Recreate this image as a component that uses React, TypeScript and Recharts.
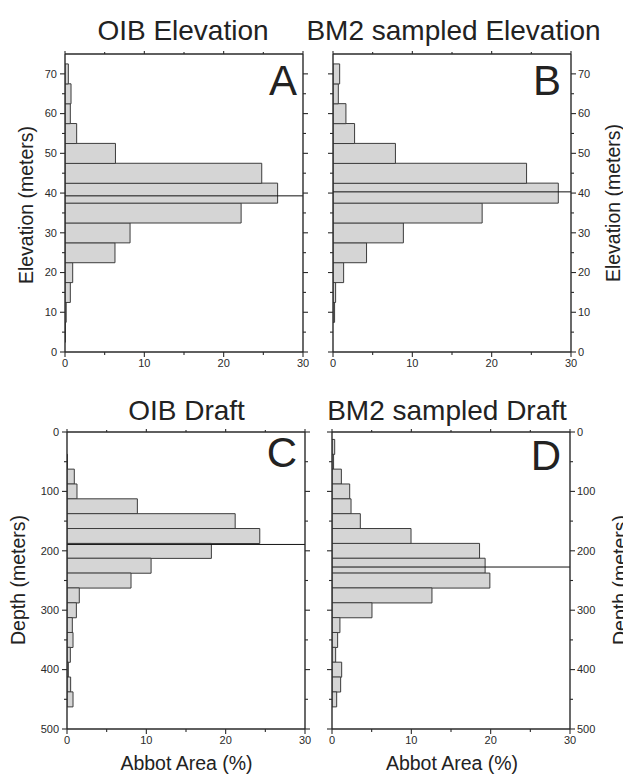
import React from 'react';
import { BarChart, Bar, XAxis, YAxis, ReferenceLine } from 'recharts';

// ---- data ----
const elevBins = [5, 10, 15, 20, 25, 30, 35, 40, 45, 50, 55, 60, 65, 70];
const oibElevation = [0.05, 0.15, 0.67, 0.97, 6.3, 8.2, 22.2, 26.8, 24.8, 6.36, 1.47, 0.67, 0.76, 0.42];
const bm2Elevation = [0, 0.2, 0.33, 1.34, 4.23, 8.87, 18.8, 28.4, 24.4, 7.87, 2.72, 1.63, 0.67, 0.84];

const depthBins = [25, 50, 75, 100, 125, 150, 175, 200, 225, 250, 275, 300, 325, 350, 375, 400, 425, 450];
const oibDraft = [0, 0.06, 0.92, 1.26, 8.87, 21.2, 24.3, 18.2, 10.6, 8.07, 1.55, 1.18, 0.67, 0.76, 0.42, 0.17, 0.46, 0.76];
const bm2Draft = [0.34, 0.2, 1.18, 2.23, 2.4, 3.57, 9.96, 18.6, 19.3, 19.9, 12.6, 5.04, 1.0, 0.71, 0.46, 1.22, 1.09, 0.59];

const oibElevationMedian = 39.3;
const bm2ElevationMedian = 40.3;
const oibDraftMedian = 189.3;
const bm2DraftMedian = 227.3;

const areaTicks = [0, 5, 10, 15, 20, 25, 30];
const elevTicks = [0, 5, 10, 15, 20, 25, 30, 35, 40, 45, 50, 55, 60, 65, 70];
const depthTicks = [0, 50, 100, 150, 200, 250, 300, 350, 400, 450, 500];

const titles = ['OIB Elevation', 'BM2 sampled Elevation', 'OIB Draft', 'BM2 sampled Draft'];
const panelLetters = ['A', 'B', 'C', 'D'];
const elevLabel = 'Elevation (meters)';
const depthLabel = 'Depth (meters)';
const areaLabel = 'Abbot Area (%)';

// ---- styles ----
const FONT = '"Liberation Sans", Arial, Helvetica, sans-serif';
const INK = '#2a2a2a';
const BAR_FILL = '#d5d5d5';
const BAR_STROKE = '#3c3c3c';
const TICK_FONT = 11;

const S = 5; // tickSize
const M_LEFT = 3;
const M_RIGHT = 2;
const M_BOTTOM = 2;
const S_TOP = 3;
const M_TOP = 0;

type Side = 'left' | 'right' | 'bottom' | 'top';

function makeTick(side: Side, major: number, showLabel: boolean) {
  return (props: any) => {
    const { x, y, payload } = props;
    const v = payload.value;
    const isMajor = Math.abs(v % major) < 1e-9;
    const label = showLabel && isMajor ? String(v) : null;
    if (side === 'left') {
      const ax = x + S + M_LEFT;
      const L = isMajor ? S : 3;
      return (
        <g>
          <line x1={ax} x2={ax - L} y1={y} y2={y} stroke={INK} strokeWidth={1.1} />
          {label && (
            <text x={x} y={y} dy="0.35em" textAnchor="end" fontSize={TICK_FONT} fontFamily={FONT} fill={INK}>
              {label}
            </text>
          )}
        </g>
      );
    }
    if (side === 'right') {
      const ax = x - S - M_RIGHT;
      const L = isMajor ? S : 3;
      return (
        <g>
          <line x1={ax} x2={ax + L} y1={y} y2={y} stroke={INK} strokeWidth={1.1} />
          {label && (
            <text x={x} y={y} dy="0.35em" textAnchor="start" fontSize={TICK_FONT} fontFamily={FONT} fill={INK}>
              {label}
            </text>
          )}
        </g>
      );
    }
    if (side === 'bottom') {
      const ay = y - S - M_BOTTOM;
      const L = isMajor ? S : 3;
      return (
        <g>
          <line x1={x} x2={x} y1={ay} y2={ay + L} stroke={INK} strokeWidth={1.1} />
          {label && (
            <text x={x} y={y} dy="0.75em" textAnchor="middle" fontSize={TICK_FONT} fontFamily={FONT} fill={INK}>
              {label}
            </text>
          )}
        </g>
      );
    }
    const ay = y + S_TOP + M_TOP;
    const L = isMajor ? 3 : 2;
    return (
      <g>
        <line x1={x} x2={x} y1={ay} y2={ay - L} stroke={INK} strokeWidth={1.1} />
      </g>
    );
  };
}

type PanelProps = {
  left: number;
  top: number;
  width: number;
  height: number;
  bins: number[];
  values: number[];
  yDomain: [number, number];
  yTicks: number[];
  yMajor: number;
  reversed: boolean;
  median: number;
  labelsLeft: boolean;
  leftW: number;
  rightW: number;
  topH: number;
  bottomH: number;
};

function Panel(p: PanelProps) {
  const data = p.bins.map((b, i) => ({ bin: b, area: p.values[i] }));
  const axisLine = { stroke: INK, strokeWidth: 1.4 };
  return (
    <div style={{ position: 'absolute', left: p.left, top: p.top, width: p.width, height: p.height }}>
      <BarChart
        layout="vertical"
        width={p.width}
        height={p.height}
        data={data}
        margin={{ top: 0, right: 0, bottom: 0, left: 0 }}
        barCategoryGap={0}
        barGap={0}
      >
        <XAxis
          xAxisId="main"
          type="number"
          orientation="bottom"
          domain={[0, 30]}
          ticks={areaTicks}
          allowDataOverflow
          interval={0}
          height={p.bottomH}
          tickLine={false}
          tickSize={S}
          tickMargin={M_BOTTOM}
          axisLine={axisLine}
          tick={makeTick('bottom', 10, true)}
        />
        <XAxis
          xAxisId="top"
          type="number"
          orientation="top"
          domain={[0, 30]}
          ticks={areaTicks}
          allowDataOverflow
          interval={0}
          height={p.topH}
          tickLine={false}
          tickSize={S_TOP}
          tickMargin={M_TOP}
          axisLine={axisLine}
          tick={makeTick('top', 10, false)}
        />
        <YAxis
          yAxisId="main"
          type="number"
          dataKey="bin"
          orientation="left"
          domain={p.yDomain}
          ticks={p.yTicks}
          reversed={p.reversed}
          allowDataOverflow
          interval={0}
          width={p.leftW}
          tickLine={false}
          tickSize={S}
          tickMargin={M_LEFT}
          axisLine={axisLine}
          tick={makeTick('left', p.yMajor, p.labelsLeft)}
        />
        <YAxis
          yAxisId="right"
          type="number"
          dataKey="bin"
          orientation="right"
          domain={p.yDomain}
          ticks={p.yTicks}
          reversed={p.reversed}
          allowDataOverflow
          interval={0}
          width={p.rightW}
          tickLine={false}
          tickSize={S}
          tickMargin={M_RIGHT}
          axisLine={axisLine}
          tick={makeTick('right', p.yMajor, !p.labelsLeft)}
        />
        <Bar
          dataKey="area"
          xAxisId="main"
          yAxisId="main"
          fill={BAR_FILL}
          stroke={BAR_STROKE}
          strokeWidth={1}
          isAnimationActive={false}
        />
        <ReferenceLine y={p.median} xAxisId="main" yAxisId="main" stroke="#111" strokeWidth={1} />
      </BarChart>
    </div>
  );
}

export default function App() {
  const titleStyle = { fontFamily: FONT, fontSize: 28, fill: '#222' } as const;
  const letterStyle = { fontFamily: FONT, fontSize: 42, fill: '#222' } as const;
  const labelStyle = { fontFamily: FONT, fontSize: 19.5, fill: '#222' } as const;
  return (
    <div style={{ position: 'absolute', left: 0, top: 0, width: 623, height: 775, background: '#fff', overflow: 'hidden' }}>
      <Panel
        left={0} top={40} width={320} height={340}
        bins={elevBins} values={oibElevation}
        yDomain={[0, 75]} yTicks={elevTicks} yMajor={10} reversed={true}
        median={oibElevationMedian} labelsLeft={true}
        leftW={65} rightW={17} topH={14} bottomH={28}
      />
      <Panel
        left={320} top={40} width={303} height={340}
        bins={elevBins} values={bm2Elevation}
        yDomain={[0, 75]} yTicks={elevTicks} yMajor={10} reversed={true}
        median={bm2ElevationMedian} labelsLeft={false}
        leftW={13} rightW={52} topH={14} bottomH={28}
      />
      <Panel
        left={0} top={418} width={320} height={340}
        bins={depthBins} values={oibDraft}
        yDomain={[0, 500]} yTicks={depthTicks} yMajor={100} reversed={false}
        median={oibDraftMedian} labelsLeft={true}
        leftW={67} rightW={15} topH={14} bottomH={29}
      />
      <Panel
        left={320} top={418} width={303} height={340}
        bins={depthBins} values={bm2Draft}
        yDomain={[0, 500]} yTicks={depthTicks} yMajor={100} reversed={false}
        median={bm2DraftMedian} labelsLeft={false}
        leftW={12} rightW={53} topH={14} bottomH={29}
      />
      <svg width={623} height={775} style={{ position: 'absolute', left: 0, top: 0, pointerEvents: 'none' }}>
        <text x={183} y={39.5} textAnchor="middle" style={titleStyle}>{titles[0]}</text>
        <text x={453.5} y={39.5} textAnchor="middle" style={titleStyle}>{titles[1]}</text>
        <text x={186.5} y={420} textAnchor="middle" style={titleStyle}>{titles[2]}</text>
        <text x={447} y={420} textAnchor="middle" style={titleStyle}>{titles[3]}</text>

        <text x={297} y={95} textAnchor="end" style={letterStyle}>{panelLetters[0]}</text>
        <text x={561} y={95} textAnchor="end" style={letterStyle}>{panelLetters[1]}</text>
        <text x={297} y={467} textAnchor="end" style={letterStyle}>{panelLetters[2]}</text>
        <text x={561} y={470} textAnchor="end" style={letterStyle}>{panelLetters[3]}</text>

        <text transform="translate(33,205) rotate(-90)" textAnchor="middle" style={labelStyle}>{elevLabel}</text>
        <text transform="translate(620,203) rotate(-90)" textAnchor="middle" style={labelStyle}>{elevLabel}</text>
        <text transform="translate(25,580) rotate(-90)" textAnchor="middle" style={labelStyle}>{depthLabel}</text>
        <text transform="translate(627,580) rotate(-90)" textAnchor="middle" style={labelStyle}>{depthLabel}</text>

        <text x={186.5} y={770} textAnchor="middle" style={labelStyle}>{areaLabel}</text>
        <text x={452} y={770} textAnchor="middle" style={labelStyle}>{areaLabel}</text>
      </svg>
    </div>
  );
}
